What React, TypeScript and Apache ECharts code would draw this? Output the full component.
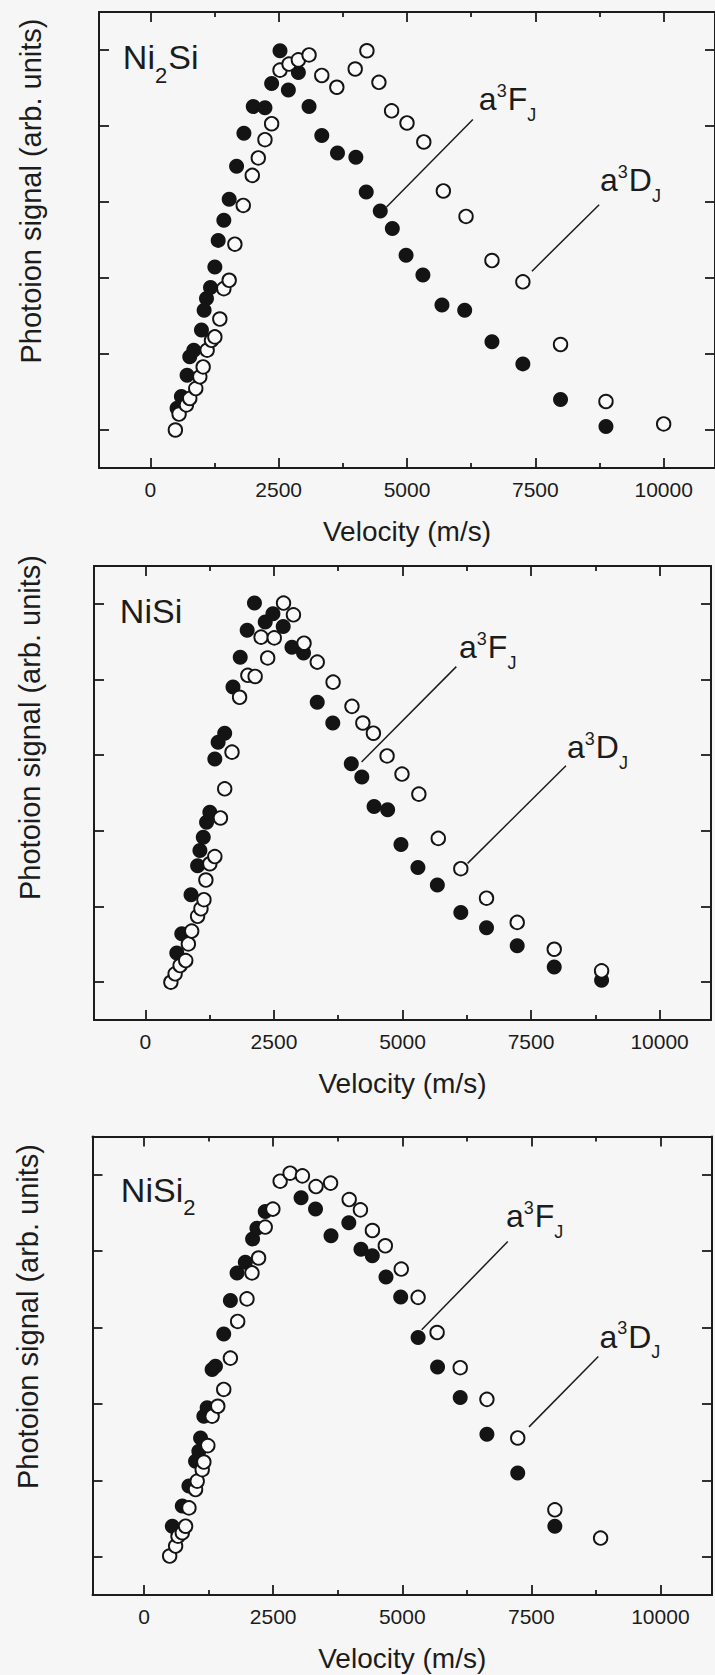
import React, { useEffect, useRef } from "react";
import * as echarts from "echarts";

// ---------- data ----------
const xMajorTicks = [0, 2500, 5000, 7500, 10000];
const xMinorTicks = [1250, 3750, 6250, 8750];
const yTicks = [0, 20, 40, 60, 80, 100];

const xTitle = "Velocity (m/s)";
const yTitle = "Photoion signal (arb. units)";

// Ni2Si  (filled = a3F_J, open = a3D_J)
const ni2siF = [
  [521, 5.7], [605, 8.8], [716, 14.4], [768, 19.3], [846, 21], [996, 26.3], [1048, 31.5],
  [1094, 34.6], [1172, 37.5], [1257, 42.9], [1322, 49.9], [1432, 55.2], [1536, 60.7],
  [1680, 69.4], [1823, 78.1], [2005, 85.1], [2233, 84.8], [2363, 91.2], [2526, 99.8],
  [2689, 89.5], [2884, 94.1], [3092, 85.1], [3340, 77.5], [3646, 72.9], [4004, 71.8],
  [4206, 62.6], [4479, 57.6], [4714, 53], [4982, 46], [5310, 40.8], [5681, 32.9],
  [6124, 31.5], [6655, 23.2], [7257, 17.4], [7991, 8], [8876, 0.9],
];
const ni2siD = [
  [488, 0], [560, 4.2], [703, 6.6], [768, 8.3], [885, 10.9], [964, 14], [1029, 16.6],
  [1107, 21], [1191, 23.6], [1257, 24.5], [1354, 29.2], [1432, 37.2], [1536, 39.4],
  [1647, 48.9], [1810, 59.1], [1986, 67], [2103, 71.6], [2233, 76.4], [2363, 80.6],
  [2526, 94.7], [2702, 96.3], [2884, 97.4], [3092, 98.7], [3340, 93.3], [3633, 90.2],
  [3991, 95], [4219, 99.8], [4453, 91.5], [4700, 84], [5000, 80.8], [5327, 75.8],
  [5708, 62.9], [6150, 56.2], [6655, 44.6], [7257, 39], [7991, 22.5], [8876, 7.5],
  [10000, 1.6],
];

// NiSi
const nisiF = [
  [610, 7.7], [707, 12.8], [887, 23.1], [1015, 30.8], [1060, 34.8], [1125, 38.3],
  [1189, 42.3], [1253, 44.9], [1350, 59], [1414, 63.4], [1542, 65.8], [1703, 78],
  [1844, 85.9], [1979, 93], [2121, 100.2], [2330, 95.2], [2480, 97.4], [2680, 94],
  [2850, 88.5], [3075, 87], [3342, 74], [3644, 68.5], [4004, 57.7], [4209, 54.2],
  [4447, 46.4], [4711, 45.6], [4970, 36.4], [5300, 30.3], [5678, 25.7], [6134, 18.4],
  [6634, 14.4], [7231, 9.6], [7951, 4], [8872, 0.5],
];
const nisiD = [
  [495, 0], [578, 2.2], [675, 4.4], [784, 5.7], [835, 10.1], [900, 13.5], [1015, 17.4],
  [1080, 19.4], [1138, 21.8], [1176, 27], [1253, 31.3], [1350, 33.2], [1459, 43.4],
  [1542, 51.1], [1684, 60.8], [1832, 75.3], [1992, 81.1], [2134, 80.8], [2249, 91.2],
  [2378, 85.7], [2506, 91], [2686, 100.2], [2879, 97.1], [3085, 89.6], [3342, 84.6],
  [3650, 79.3], [4017, 72.9], [4229, 68.5], [4434, 65.8], [4700, 59.8], [4990, 55],
  [5318, 49.7], [5696, 38], [6134, 30], [6634, 22.2], [7231, 15.8], [7951, 8.7],
  [8872, 3],
];

// NiSi2
const nisi2F = [
  [546, 8], [739, 13.3], [868, 18.5], [996, 25], [1060, 27.6], [1093, 31.1], [1157, 36.8],
  [1221, 39], [1317, 49], [1382, 49.9], [1542, 58.3], [1671, 67.1], [1800, 74.3],
  [1960, 77.1], [2101, 83.2], [2185, 86], [2346, 90.4], [3040, 94], [3320, 91],
  [3620, 84], [3965, 87.4], [4200, 80.5], [4420, 78.8], [4685, 73.2], [4970, 68],
  [5307, 57.4], [5684, 49.7], [6123, 41.7], [6640, 32.1], [7237, 21.9], [7956, 8],
];
const nisi2D = [
  [495, 0.2], [610, 2.8], [656, 5.4], [739, 6.3], [803, 8], [868, 12.8], [996, 17.6],
  [1028, 19.8], [1125, 22.8], [1157, 24.8], [1234, 29.1], [1317, 36.8], [1427, 39.4],
  [1542, 43.8], [1671, 52], [1812, 61.6], [1992, 67.5], [2089, 74.3], [2217, 78.2],
  [2346, 86.3], [2494, 91], [2635, 98.3], [2828, 100.4], [3066, 99.7], [3329, 96.9],
  [3612, 97.8], [3972, 93.5], [4190, 90.8], [4422, 85.4], [4672, 81.4], [4981, 75.3],
  [5307, 67.9], [5675, 58.7], [6123, 49.5], [6640, 41.2], [7237, 31.1], [7956, 12.3],
  [8842, 4.9],
];

// leader lines [x1, y1, x2, y2] in data units
const ni2siLines = [[6283, 81.7, 4602, 58.7], [8743, 59.3, 7434, 41.8]];
const nisiLines = [[6047, 83.4, 4204, 58.2], [8179, 57.2, 6266, 31.4]];
const nisi2Lines = [[7044, 82.5, 5377, 59.4], [8798, 52.4, 7456, 34]];

// labels [x (left), y (baseline), label id]
const ni2siLabels = [[6400, 84.2, 0], [8760, 62.9, 1], [-535, 94.9, 2]];
const nisiLabels = [[6100, 85.5, 0], [8200, 59.1, 1], [-497, 95, 3]];
const nisi2Labels = [[7010, 86.3, 0], [8820, 54.7, 1], [-451, 93, 4]];

// label text pieces: [text, role]
const labelPieces: [string, string][][] = [
  [["a", "m"], ["3", "sup"], ["F", "m"], ["J", "sub"]],
  [["a", "m"], ["3", "sup"], ["D", "m"], ["J", "sub"]],
  [["Ni", "big"], ["2", "bigsub"], ["Si", "big"]],
  [["NiSi", "big"]],
  [["NiSi", "big"], ["2", "bigsub"]],
];

// ---------- styles / layout ----------
const FONT = "'Liberation Sans', Arial, Helvetica, sans-serif";
const INK = "#1c1c1c";
const BG = "#f6f6f6";
const roleStyle: Record<string, { size: number; dy: number }> = {
  m: { size: 32, dy: 0 },
  sup: { size: 18, dy: -13 },
  sub: { size: 18, dy: 11 },
  big: { size: 34, dy: 0 },
  bigsub: { size: 22, dy: 14 },
};

const grids = [
  { left: 99, top: 12, width: 617, height: 456 },
  { left: 94, top: 566, width: 617, height: 454 },
  { left: 92.5, top: 1136.5, width: 619.5, height: 458.5 },
];
const yTitlePos = [
  [31, 191],
  [29.5, 727.5],
  [27.5, 1316.5],
];

const panels = [
  { f: ni2siF, d: ni2siD, lines: ni2siLines, labels: ni2siLabels },
  { f: nisiF, d: nisiD, lines: nisiLines, labels: nisiLabels },
  { f: nisi2F, d: nisi2D, lines: nisi2Lines, labels: nisi2Labels },
];

let measureCtx: CanvasRenderingContext2D | null = null;
function textWidth(t: string, size: number) {
  if (!measureCtx) measureCtx = document.createElement("canvas").getContext("2d");
  measureCtx!.font = `${size}px ${FONT}`;
  return measureCtx!.measureText(t).width;
}

function buildOption() {
  const xAxis: any[] = [];
  const yAxis: any[] = [];
  const series: any[] = [];
  const lineStyle = { color: INK, width: 2 };
  const tickStyle = { color: INK, width: 1.8 };

  grids.forEach((_, i) => {
    const cx = { type: "value", gridIndex: i, min: -1000, max: 11000, splitLine: { show: false } };
    xAxis.push({
      ...cx,
      position: "bottom",
      axisLine: { show: true, onZero: false, lineStyle },
      axisTick: { show: true, inside: true, length: 10, customValues: xMajorTicks, lineStyle: tickStyle },
      axisLabel: {
        show: true,
        customValues: xMajorTicks,
        formatter: (v: number) => String(v),
        fontSize: 21,
        color: INK,
        fontFamily: FONT,
        margin: 11,
      },
      name: xTitle,
      nameLocation: "middle",
      nameGap: 49,
      nameTextStyle: { fontSize: 28, color: INK, fontFamily: FONT },
    });
    xAxis.push({
      ...cx,
      position: "bottom",
      axisLine: { show: false, onZero: false },
      axisTick: { show: true, inside: true, length: 5, customValues: xMinorTicks, lineStyle: tickStyle },
      axisLabel: { show: false },
    });
    xAxis.push({
      ...cx,
      position: "top",
      axisLine: { show: true, onZero: false, lineStyle },
      axisTick: { show: true, inside: true, length: 10, customValues: xMajorTicks, lineStyle: tickStyle },
      axisLabel: { show: false },
    });
    xAxis.push({
      ...cx,
      position: "top",
      axisLine: { show: false, onZero: false },
      axisTick: { show: true, inside: true, length: 5, customValues: xMinorTicks, lineStyle: tickStyle },
      axisLabel: { show: false },
    });
    const cy = { type: "value", gridIndex: i, min: -10, max: 110, splitLine: { show: false } };
    yAxis.push({
      ...cy,
      position: "left",
      axisLine: { show: true, onZero: false, lineStyle },
      axisTick: { show: true, inside: true, length: 10, customValues: yTicks, lineStyle: tickStyle },
      axisLabel: { show: false },
    });
    yAxis.push({
      ...cy,
      position: "right",
      axisLine: { show: true, onZero: false, lineStyle },
      axisTick: { show: true, inside: true, length: 10, customValues: yTicks, lineStyle: tickStyle },
      axisLabel: { show: false },
    });

    const p = panels[i];
    const xi = i * 4;
    const yi = i * 2;
    series.push({
      type: "scatter",
      name: "a3FJ",
      xAxisIndex: xi,
      yAxisIndex: yi,
      data: p.f,
      symbol: "circle",
      symbolSize: 15,
      itemStyle: { color: "#141414", opacity: 1 },
      z: 2,
    });
    series.push({
      type: "scatter",
      name: "a3DJ",
      xAxisIndex: xi,
      yAxisIndex: yi,
      data: p.d,
      symbol: "circle",
      symbolSize: 13.5,
      itemStyle: { color: "#fafafa", borderColor: "#141414", borderWidth: 1.9, opacity: 1 },
      z: 3,
    });
    series.push({
      type: "custom",
      xAxisIndex: xi,
      yAxisIndex: yi,
      data: p.lines,
      encode: { x: [0, 2], y: [1, 3] },
      z: 4,
      silent: true,
      renderItem: (params: any, api: any) => {
        const a = api.coord([api.value(0), api.value(1)]);
        const b = api.coord([api.value(2), api.value(3)]);
        return {
          type: "line",
          shape: { x1: a[0], y1: a[1], x2: b[0], y2: b[1] },
          style: { stroke: INK, lineWidth: 1.5 },
        };
      },
    });
    series.push({
      type: "custom",
      xAxisIndex: xi,
      yAxisIndex: yi,
      data: p.labels,
      encode: { x: 0, y: 1 },
      z: 5,
      silent: true,
      renderItem: (params: any, api: any) => {
        const pt = api.coord([api.value(0), api.value(1)]);
        const pieces = labelPieces[api.value(2)];
        let x = pt[0];
        const children = pieces.map(([t, role]) => {
          const st = roleStyle[role];
          const el = {
            type: "text",
            x,
            y: pt[1] + st.dy - 0.35 * st.size,
            style: {
              text: t,
              fontSize: st.size,
              fontFamily: FONT,
              fill: INK,
              align: "left",
              verticalAlign: "middle",
            },
          };
          x += textWidth(t, st.size) + (role === "sup" || role === "bigsub" ? 1 : 0);
          return el;
        });
        return { type: "group", children };
      },
    });
  });

  const graphic = yTitlePos.map(([x, y]) => ({
    type: "text",
    x,
    y,
    rotation: Math.PI / 2,
    style: {
      text: yTitle,
      fontSize: 29,
      fontFamily: FONT,
      fill: INK,
      align: "center",
      verticalAlign: "middle",
    },
  }));

  return {
    animation: false,
    backgroundColor: BG,
    grid: grids.map((g) => ({ ...g, containLabel: false })),
    xAxis,
    yAxis,
    series,
    graphic,
  };
}

export default function App() {
  const ref = useRef<HTMLDivElement>(null);
  useEffect(() => {
    document.body.style.margin = "0";
    document.body.style.background = BG;
    const chart = echarts.init(ref.current!, undefined, { renderer: "svg" });
    chart.setOption(buildOption() as any);
    return () => chart.dispose();
  }, []);
  return <div ref={ref} style={{ width: 715, height: 1675, background: BG }} />;
}
